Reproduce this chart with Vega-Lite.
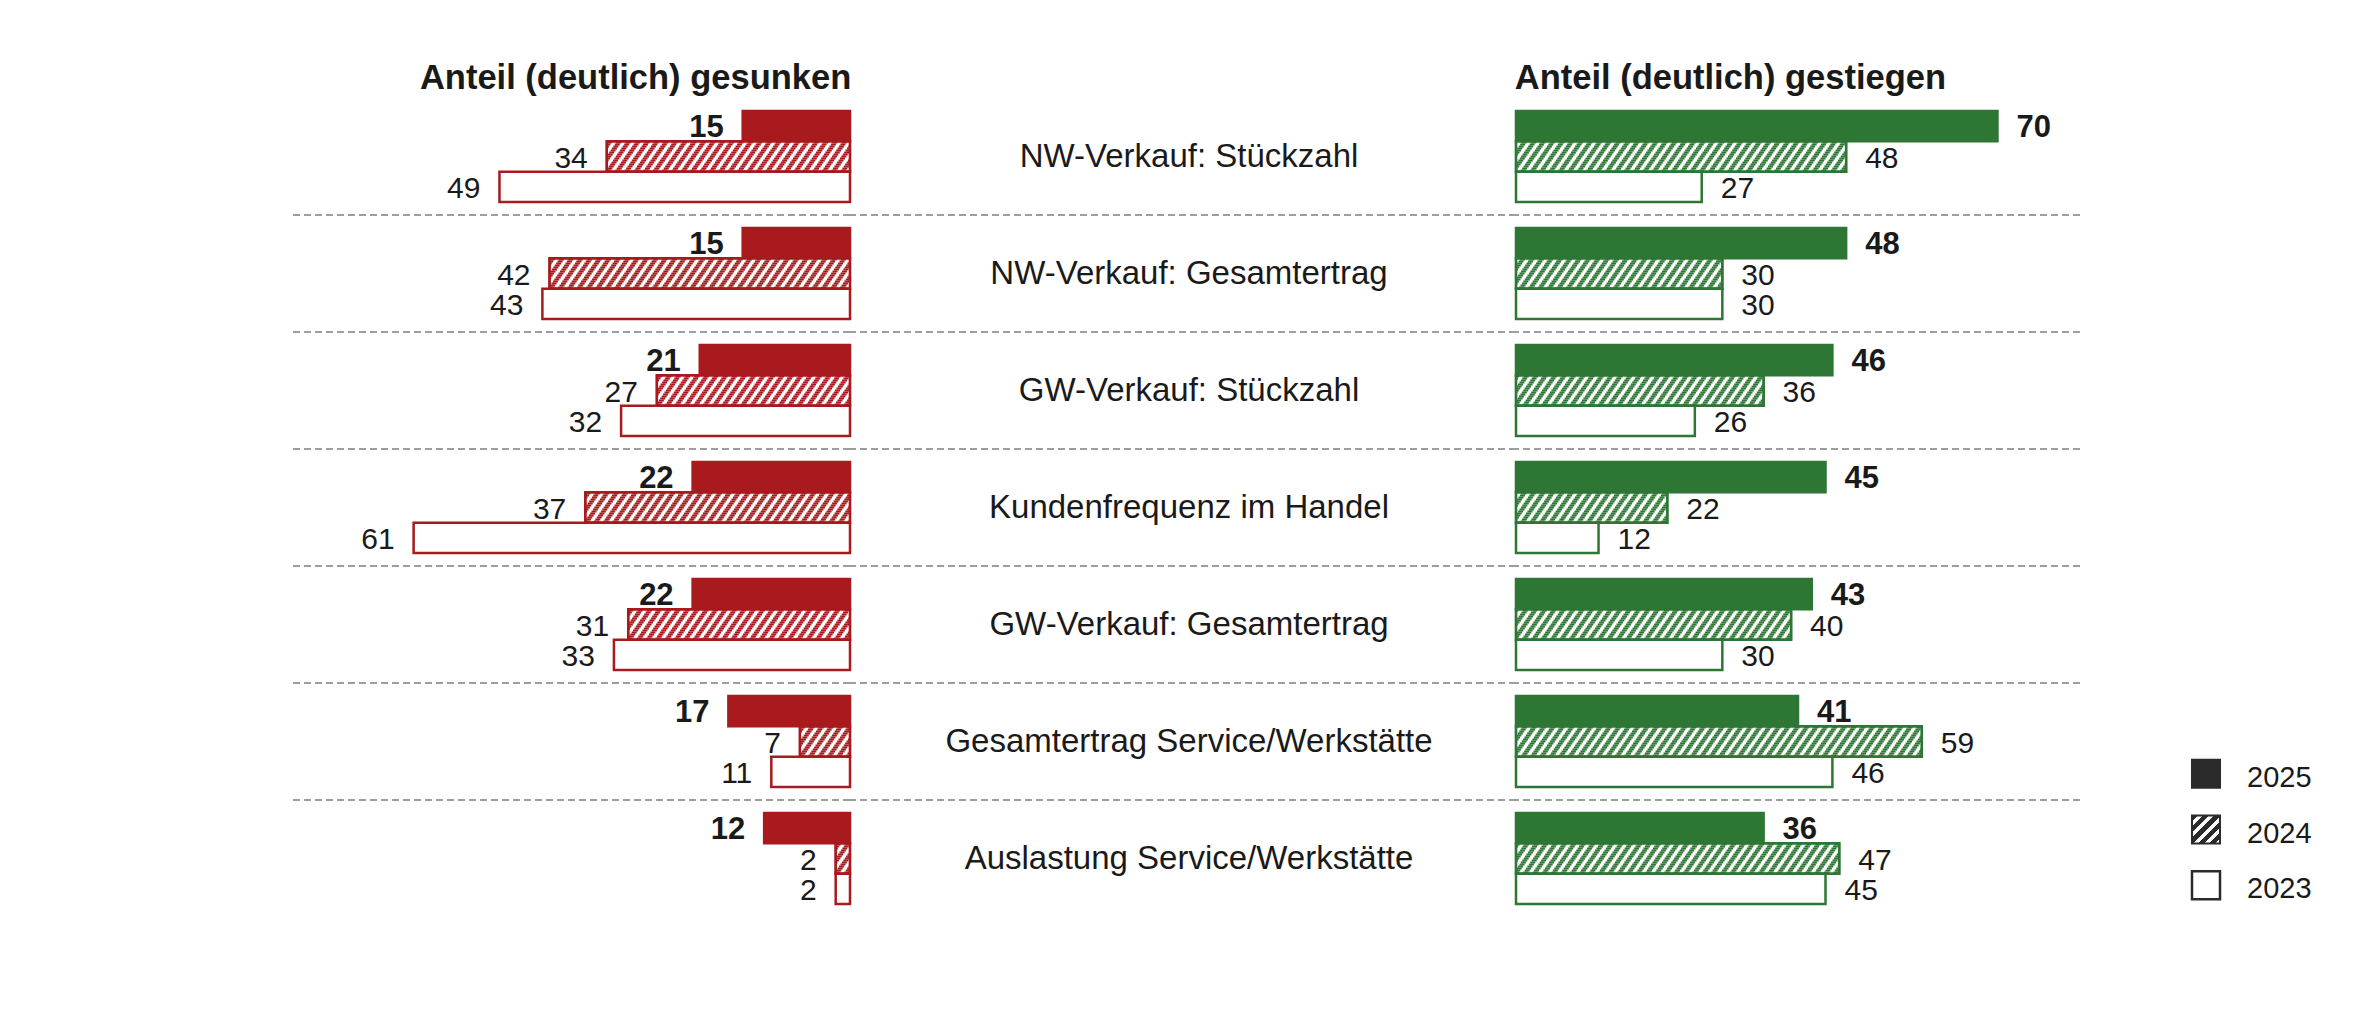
{
  "$schema": "https://vega.github.io/schema/vega-lite/v6.json",
  "background": "white",
  "padding": {"left": 290, "top": 60, "right": 0, "bottom": 0},
  "spacing": 0,
  "bounds": "flush",
  "config": {"view": {"stroke": null}, "font": "Liberation Sans", "text": {"font": "Liberation Sans"}, "title": {"font": "Liberation Sans"}},
  "datasets": {
    "d": [
      {"item": "NW-Verkauf: Stückzahl", "year": "2025", "down": 15, "up": 70},
      {"item": "NW-Verkauf: Stückzahl", "year": "2024", "down": 34, "up": 48},
      {"item": "NW-Verkauf: Stückzahl", "year": "2023", "down": 49, "up": 27},
      {"item": "NW-Verkauf: Gesamtertrag", "year": "2025", "down": 15, "up": 48},
      {"item": "NW-Verkauf: Gesamtertrag", "year": "2024", "down": 42, "up": 30},
      {"item": "NW-Verkauf: Gesamtertrag", "year": "2023", "down": 43, "up": 30},
      {"item": "GW-Verkauf: Stückzahl", "year": "2025", "down": 21, "up": 46},
      {"item": "GW-Verkauf: Stückzahl", "year": "2024", "down": 27, "up": 36},
      {"item": "GW-Verkauf: Stückzahl", "year": "2023", "down": 32, "up": 26},
      {"item": "Kundenfrequenz im Handel", "year": "2025", "down": 22, "up": 45},
      {"item": "Kundenfrequenz im Handel", "year": "2024", "down": 37, "up": 22},
      {"item": "Kundenfrequenz im Handel", "year": "2023", "down": 61, "up": 12},
      {"item": "GW-Verkauf: Gesamtertrag", "year": "2025", "down": 22, "up": 43},
      {"item": "GW-Verkauf: Gesamtertrag", "year": "2024", "down": 31, "up": 40},
      {"item": "GW-Verkauf: Gesamtertrag", "year": "2023", "down": 33, "up": 30},
      {"item": "Gesamtertrag Service/Werkstätte", "year": "2025", "down": 17, "up": 41},
      {"item": "Gesamtertrag Service/Werkstätte", "year": "2024", "down": 7, "up": 59},
      {"item": "Gesamtertrag Service/Werkstätte", "year": "2023", "down": 11, "up": 46},
      {"item": "Auslastung Service/Werkstätte", "year": "2025", "down": 12, "up": 36},
      {"item": "Auslastung Service/Werkstätte", "year": "2024", "down": 2, "up": 47},
      {"item": "Auslastung Service/Werkstätte", "year": "2023", "down": 2, "up": 45}
    ]
  },
  "data": {"name": "d"},
  "hconcat": [
    {
      "width": 558,
      "height": 819,
      "title": {"text": "Anteil (deutlich) gesunken", "anchor": "end", "offset": -25, "baseline": "alphabetic", "fontSize": 34.5, "fontWeight": "bold", "color": "#1a1a1a"},
      "encoding": {
        "y": {"field": "item", "type": "nominal", "axis": null, "scale": {"domain": ["NW-Verkauf: Stückzahl", "NW-Verkauf: Gesamtertrag", "GW-Verkauf: Stückzahl", "Kundenfrequenz im Handel", "GW-Verkauf: Gesamtertrag", "Gesamtertrag Service/Werkstätte", "Auslastung Service/Werkstätte"], "paddingInner": 0, "paddingOuter": 0}}
      },
      "layer": [
        {
          "transform": [{"filter": "datum.item != 'NW-Verkauf: Stückzahl' && datum.year == '2025'"}],
          "mark": {"type": "rule", "strokeDash": [7, 4], "color": "#9e9e9e", "strokeWidth": 2.2},
          "encoding": {"y": {"field": "item", "type": "nominal", "bandPosition": 0, "axis": null, "scale": {"domain": ["NW-Verkauf: Stückzahl", "NW-Verkauf: Gesamtertrag", "GW-Verkauf: Stückzahl", "Kundenfrequenz im Handel", "GW-Verkauf: Gesamtertrag", "Gesamtertrag Service/Werkstätte", "Auslastung Service/Werkstätte"], "paddingInner": 0, "paddingOuter": 0}}}
        },
        {
          "mark": {"type": "bar", "stroke": "#a81a1e", "strokeWidth": 2.5},
          "encoding": {
            "x": {"field": "down", "type": "quantitative", "axis": null, "scale": {"domain": [0, 78], "reverse": true}},
            "yOffset": {"field": "year", "type": "nominal", "scale": {"domain": ["2025", "2024", "2023"], "paddingInner": 0, "paddingOuter": 0.43}},
            "fill": {"condition": {"test": "datum.year == '2025'", "value": "#a81a1e"}, "value": "white"}
          }
        },
        {
          "transform": [{"filter": "datum.year == '2024'"}],
          "encoding": {
            "x": {"field": "down", "type": "quantitative", "axis": null, "scale": {"domain": [0, 78], "reverse": true}},
            "x2": {"datum": 0}
          },
          "layer": [
            {"mark": {"type": "rule", "color": "#a81a1e", "strokeWidth": 2.2, "strokeDash": [5, 4.4], "yOffset": -14, "strokeDashOffset": 0}, "encoding": {}},
            {"mark": {"type": "rule", "color": "#a81a1e", "strokeWidth": 2.2, "strokeDash": [5, 4.4], "yOffset": -12, "strokeDashOffset": 1.4}, "encoding": {}},
            {"mark": {"type": "rule", "color": "#a81a1e", "strokeWidth": 2.2, "strokeDash": [5, 4.4], "yOffset": -10, "strokeDashOffset": 2.8}, "encoding": {}},
            {"mark": {"type": "rule", "color": "#a81a1e", "strokeWidth": 2.2, "strokeDash": [5, 4.4], "yOffset": -8, "strokeDashOffset": 4.2}, "encoding": {}},
            {"mark": {"type": "rule", "color": "#a81a1e", "strokeWidth": 2.2, "strokeDash": [5, 4.4], "yOffset": -6, "strokeDashOffset": 5.6}, "encoding": {}},
            {"mark": {"type": "rule", "color": "#a81a1e", "strokeWidth": 2.2, "strokeDash": [5, 4.4], "yOffset": -4, "strokeDashOffset": 7.0}, "encoding": {}},
            {"mark": {"type": "rule", "color": "#a81a1e", "strokeWidth": 2.2, "strokeDash": [5, 4.4], "yOffset": -2, "strokeDashOffset": 8.4}, "encoding": {}},
            {"mark": {"type": "rule", "color": "#a81a1e", "strokeWidth": 2.2, "strokeDash": [5, 4.4], "yOffset": 0, "strokeDashOffset": 9.8}, "encoding": {}},
            {"mark": {"type": "rule", "color": "#a81a1e", "strokeWidth": 2.2, "strokeDash": [5, 4.4], "yOffset": 2, "strokeDashOffset": 11.2}, "encoding": {}},
            {"mark": {"type": "rule", "color": "#a81a1e", "strokeWidth": 2.2, "strokeDash": [5, 4.4], "yOffset": 4, "strokeDashOffset": 12.6}, "encoding": {}},
            {"mark": {"type": "rule", "color": "#a81a1e", "strokeWidth": 2.2, "strokeDash": [5, 4.4], "yOffset": 6, "strokeDashOffset": 14.0}, "encoding": {}},
            {"mark": {"type": "rule", "color": "#a81a1e", "strokeWidth": 2.2, "strokeDash": [5, 4.4], "yOffset": 8, "strokeDashOffset": 15.4}, "encoding": {}},
            {"mark": {"type": "rule", "color": "#a81a1e", "strokeWidth": 2.2, "strokeDash": [5, 4.4], "yOffset": 10, "strokeDashOffset": 16.8}, "encoding": {}},
            {"mark": {"type": "rule", "color": "#a81a1e", "strokeWidth": 2.2, "strokeDash": [5, 4.4], "yOffset": 12, "strokeDashOffset": 18.2}, "encoding": {}},
            {"mark": {"type": "rule", "color": "#a81a1e", "strokeWidth": 2.2, "strokeDash": [5, 4.4], "yOffset": 14, "strokeDashOffset": 19.6}, "encoding": {}}
          ]
        },
        {
          "transform": [{"filter": "datum.year == '2024'"}],
          "mark": {"type": "bar", "filled": false, "stroke": "#a81a1e", "strokeWidth": 2.2},
          "encoding": {
            "x": {"field": "down", "type": "quantitative", "axis": null, "scale": {"domain": [0, 78], "reverse": true}},
            "yOffset": {"field": "year", "type": "nominal", "scale": {"domain": ["2025", "2024", "2023"], "paddingInner": 0, "paddingOuter": 0.43}}
          }
        },
        {
          "transform": [{"filter": "datum.year == '2025'"}],
          "mark": {"type": "text", "align": "right", "dx": -19, "dy": 2, "baseline": "middle", "fontSize": 31, "fontWeight": "bold", "color": "#1a1a1a"},
          "encoding": {
            "x": {"field": "down", "type": "quantitative", "axis": null, "scale": {"domain": [0, 78], "reverse": true}},
            "yOffset": {"field": "year", "type": "nominal", "scale": {"domain": ["2025", "2024", "2023"], "paddingInner": 0, "paddingOuter": 0.43}},
            "text": {"field": "down", "type": "quantitative"}
          }
        },
        {
          "transform": [{"filter": "datum.year != '2025'"}],
          "mark": {"type": "text", "align": "right", "dx": -19, "dy": 2, "baseline": "middle", "fontSize": 30, "color": "#1a1a1a"},
          "encoding": {
            "x": {"field": "down", "type": "quantitative", "axis": null, "scale": {"domain": [0, 78], "reverse": true}},
            "yOffset": {"field": "year", "type": "nominal", "scale": {"domain": ["2025", "2024", "2023"], "paddingInner": 0, "paddingOuter": 0.43}},
            "text": {"field": "down", "type": "quantitative"}
          }
        }
      ]
    },
    {
      "width": 666,
      "height": 819,
      "encoding": {
        "y": {"field": "item", "type": "nominal", "axis": null, "scale": {"domain": ["NW-Verkauf: Stückzahl", "NW-Verkauf: Gesamtertrag", "GW-Verkauf: Stückzahl", "Kundenfrequenz im Handel", "GW-Verkauf: Gesamtertrag", "Gesamtertrag Service/Werkstätte", "Auslastung Service/Werkstätte"], "paddingInner": 0, "paddingOuter": 0}}
      },
      "layer": [
        {
          "transform": [{"filter": "datum.item != 'NW-Verkauf: Stückzahl' && datum.year == '2025'"}],
          "mark": {"type": "rule", "strokeDash": [7, 4], "color": "#9e9e9e", "strokeWidth": 2.2},
          "encoding": {"y": {"field": "item", "type": "nominal", "bandPosition": 0, "axis": null, "scale": {"domain": ["NW-Verkauf: Stückzahl", "NW-Verkauf: Gesamtertrag", "GW-Verkauf: Stückzahl", "Kundenfrequenz im Handel", "GW-Verkauf: Gesamtertrag", "Gesamtertrag Service/Werkstätte", "Auslastung Service/Werkstätte"], "paddingInner": 0, "paddingOuter": 0}}}
        },
        {
          "transform": [{"filter": "datum.year == '2025'"}],
          "mark": {"type": "text", "fontSize": 33, "dx": 6, "baseline": "middle", "color": "#1a1a1a"},
          "encoding": {"text": {"field": "item", "type": "nominal"}}
        }
      ]
    },
    {
      "width": 564,
      "height": 819,
      "title": {"text": "Anteil (deutlich) gestiegen", "anchor": "start", "offset": -25, "baseline": "alphabetic", "fontSize": 34.5, "fontWeight": "bold", "color": "#1a1a1a"},
      "encoding": {
        "y": {"field": "item", "type": "nominal", "axis": null, "scale": {"domain": ["NW-Verkauf: Stückzahl", "NW-Verkauf: Gesamtertrag", "GW-Verkauf: Stückzahl", "Kundenfrequenz im Handel", "GW-Verkauf: Gesamtertrag", "Gesamtertrag Service/Werkstätte", "Auslastung Service/Werkstätte"], "paddingInner": 0, "paddingOuter": 0}}
      },
      "layer": [
        {
          "transform": [{"filter": "datum.item != 'NW-Verkauf: Stückzahl' && datum.year == '2025'"}],
          "mark": {"type": "rule", "strokeDash": [7, 4], "color": "#9e9e9e", "strokeWidth": 2.2},
          "encoding": {"y": {"field": "item", "type": "nominal", "bandPosition": 0, "axis": null, "scale": {"domain": ["NW-Verkauf: Stückzahl", "NW-Verkauf: Gesamtertrag", "GW-Verkauf: Stückzahl", "Kundenfrequenz im Handel", "GW-Verkauf: Gesamtertrag", "Gesamtertrag Service/Werkstätte", "Auslastung Service/Werkstätte"], "paddingInner": 0, "paddingOuter": 0}}}
        },
        {
          "mark": {"type": "bar", "stroke": "#2d7634", "strokeWidth": 2.5},
          "encoding": {
            "x": {"field": "up", "type": "quantitative", "axis": null, "scale": {"domain": [0, 82]}},
            "yOffset": {"field": "year", "type": "nominal", "scale": {"domain": ["2025", "2024", "2023"], "paddingInner": 0, "paddingOuter": 0.43}},
            "fill": {"condition": {"test": "datum.year == '2025'", "value": "#2d7634"}, "value": "white"}
          }
        },
        {
          "transform": [{"filter": "datum.year == '2024'"}],
          "encoding": {
            "x": {"field": "up", "type": "quantitative", "axis": null, "scale": {"domain": [0, 82]}},
            "x2": {"datum": 0}
          },
          "layer": [
            {"mark": {"type": "rule", "color": "#2d7634", "strokeWidth": 2.2, "strokeDash": [5, 4.4], "yOffset": -14, "strokeDashOffset": 0}, "encoding": {}},
            {"mark": {"type": "rule", "color": "#2d7634", "strokeWidth": 2.2, "strokeDash": [5, 4.4], "yOffset": -12, "strokeDashOffset": -1.4}, "encoding": {}},
            {"mark": {"type": "rule", "color": "#2d7634", "strokeWidth": 2.2, "strokeDash": [5, 4.4], "yOffset": -10, "strokeDashOffset": -2.8}, "encoding": {}},
            {"mark": {"type": "rule", "color": "#2d7634", "strokeWidth": 2.2, "strokeDash": [5, 4.4], "yOffset": -8, "strokeDashOffset": -4.2}, "encoding": {}},
            {"mark": {"type": "rule", "color": "#2d7634", "strokeWidth": 2.2, "strokeDash": [5, 4.4], "yOffset": -6, "strokeDashOffset": -5.6}, "encoding": {}},
            {"mark": {"type": "rule", "color": "#2d7634", "strokeWidth": 2.2, "strokeDash": [5, 4.4], "yOffset": -4, "strokeDashOffset": -7.0}, "encoding": {}},
            {"mark": {"type": "rule", "color": "#2d7634", "strokeWidth": 2.2, "strokeDash": [5, 4.4], "yOffset": -2, "strokeDashOffset": -8.4}, "encoding": {}},
            {"mark": {"type": "rule", "color": "#2d7634", "strokeWidth": 2.2, "strokeDash": [5, 4.4], "yOffset": 0, "strokeDashOffset": -9.8}, "encoding": {}},
            {"mark": {"type": "rule", "color": "#2d7634", "strokeWidth": 2.2, "strokeDash": [5, 4.4], "yOffset": 2, "strokeDashOffset": -11.2}, "encoding": {}},
            {"mark": {"type": "rule", "color": "#2d7634", "strokeWidth": 2.2, "strokeDash": [5, 4.4], "yOffset": 4, "strokeDashOffset": -12.6}, "encoding": {}},
            {"mark": {"type": "rule", "color": "#2d7634", "strokeWidth": 2.2, "strokeDash": [5, 4.4], "yOffset": 6, "strokeDashOffset": -14.0}, "encoding": {}},
            {"mark": {"type": "rule", "color": "#2d7634", "strokeWidth": 2.2, "strokeDash": [5, 4.4], "yOffset": 8, "strokeDashOffset": -15.4}, "encoding": {}},
            {"mark": {"type": "rule", "color": "#2d7634", "strokeWidth": 2.2, "strokeDash": [5, 4.4], "yOffset": 10, "strokeDashOffset": -16.8}, "encoding": {}},
            {"mark": {"type": "rule", "color": "#2d7634", "strokeWidth": 2.2, "strokeDash": [5, 4.4], "yOffset": 12, "strokeDashOffset": -18.2}, "encoding": {}},
            {"mark": {"type": "rule", "color": "#2d7634", "strokeWidth": 2.2, "strokeDash": [5, 4.4], "yOffset": 14, "strokeDashOffset": -19.6}, "encoding": {}}
          ]
        },
        {
          "transform": [{"filter": "datum.year == '2024'"}],
          "mark": {"type": "bar", "filled": false, "stroke": "#2d7634", "strokeWidth": 2.2},
          "encoding": {
            "x": {"field": "up", "type": "quantitative", "axis": null, "scale": {"domain": [0, 82]}},
            "yOffset": {"field": "year", "type": "nominal", "scale": {"domain": ["2025", "2024", "2023"], "paddingInner": 0, "paddingOuter": 0.43}}
          }
        },
        {
          "transform": [{"filter": "datum.year == '2025'"}],
          "mark": {"type": "text", "align": "left", "dx": 19, "dy": 2, "baseline": "middle", "fontSize": 31, "fontWeight": "bold", "color": "#1a1a1a"},
          "encoding": {
            "x": {"field": "up", "type": "quantitative", "axis": null, "scale": {"domain": [0, 82]}},
            "yOffset": {"field": "year", "type": "nominal", "scale": {"domain": ["2025", "2024", "2023"], "paddingInner": 0, "paddingOuter": 0.43}},
            "text": {"field": "up", "type": "quantitative"}
          }
        },
        {
          "transform": [{"filter": "datum.year != '2025'"}],
          "mark": {"type": "text", "align": "left", "dx": 19, "dy": 2, "baseline": "middle", "fontSize": 30, "color": "#1a1a1a"},
          "encoding": {
            "x": {"field": "up", "type": "quantitative", "axis": null, "scale": {"domain": [0, 82]}},
            "yOffset": {"field": "year", "type": "nominal", "scale": {"domain": ["2025", "2024", "2023"], "paddingInner": 0, "paddingOuter": 0.43}},
            "text": {"field": "up", "type": "quantitative"}
          }
        }
      ]
    },
    {
      "width": 252,
      "height": 819,
      "transform": [{"filter": "datum.item == 'NW-Verkauf: Stückzahl'"}],
      "encoding": {
        "y": {"field": "year", "type": "nominal", "axis": null, "scale": {"domain": ["2025", "2024", "2023"], "range": [648, 815]}}
      },
      "layer": [
        {
          "transform": [{"filter": "datum.year == '2025'"}],
          "mark": {"type": "point", "shape": "square", "size": 784, "filled": true, "fill": "#2b2b2b", "stroke": "#2b2b2b", "strokeWidth": 2, "opacity": 1},
          "encoding": {}
        },
        {
          "transform": [{"filter": "datum.year == '2024'"}],
          "mark": {"type": "point", "shape": "square", "size": 784, "filled": true, "stroke": "#2b2b2b", "strokeWidth": 2, "opacity": 1,
            "fill": {"gradient": "linear", "x1": 0, "y1": 0, "x2": 1, "y2": 1, "stops": [
              {"offset": 0, "color": "#2b2b2b"}, {"offset": 0.11, "color": "#2b2b2b"}, {"offset": 0.11, "color": "white"}, {"offset": 0.2, "color": "white"},
              {"offset": 0.2, "color": "#2b2b2b"}, {"offset": 0.31, "color": "#2b2b2b"}, {"offset": 0.31, "color": "white"}, {"offset": 0.4, "color": "white"},
              {"offset": 0.4, "color": "#2b2b2b"}, {"offset": 0.51, "color": "#2b2b2b"}, {"offset": 0.51, "color": "white"}, {"offset": 0.6, "color": "white"},
              {"offset": 0.6, "color": "#2b2b2b"}, {"offset": 0.71, "color": "#2b2b2b"}, {"offset": 0.71, "color": "white"}, {"offset": 0.8, "color": "white"},
              {"offset": 0.8, "color": "#2b2b2b"}, {"offset": 0.91, "color": "#2b2b2b"}, {"offset": 0.91, "color": "white"}, {"offset": 1, "color": "white"}
            ]}},
          "encoding": {}
        },
        {
          "transform": [{"filter": "datum.year == '2023'"}],
          "mark": {"type": "point", "shape": "square", "size": 784, "filled": true, "fill": "white", "stroke": "#2b2b2b", "strokeWidth": 2.5, "opacity": 1},
          "encoding": {}
        },
        {
          "mark": {"type": "text", "align": "left", "dx": 41, "dy": 4, "baseline": "middle", "fontSize": 29, "color": "#1a1a1a"},
          "encoding": {"text": {"field": "year", "type": "nominal"}}
        }
      ]
    }
  ]
}
